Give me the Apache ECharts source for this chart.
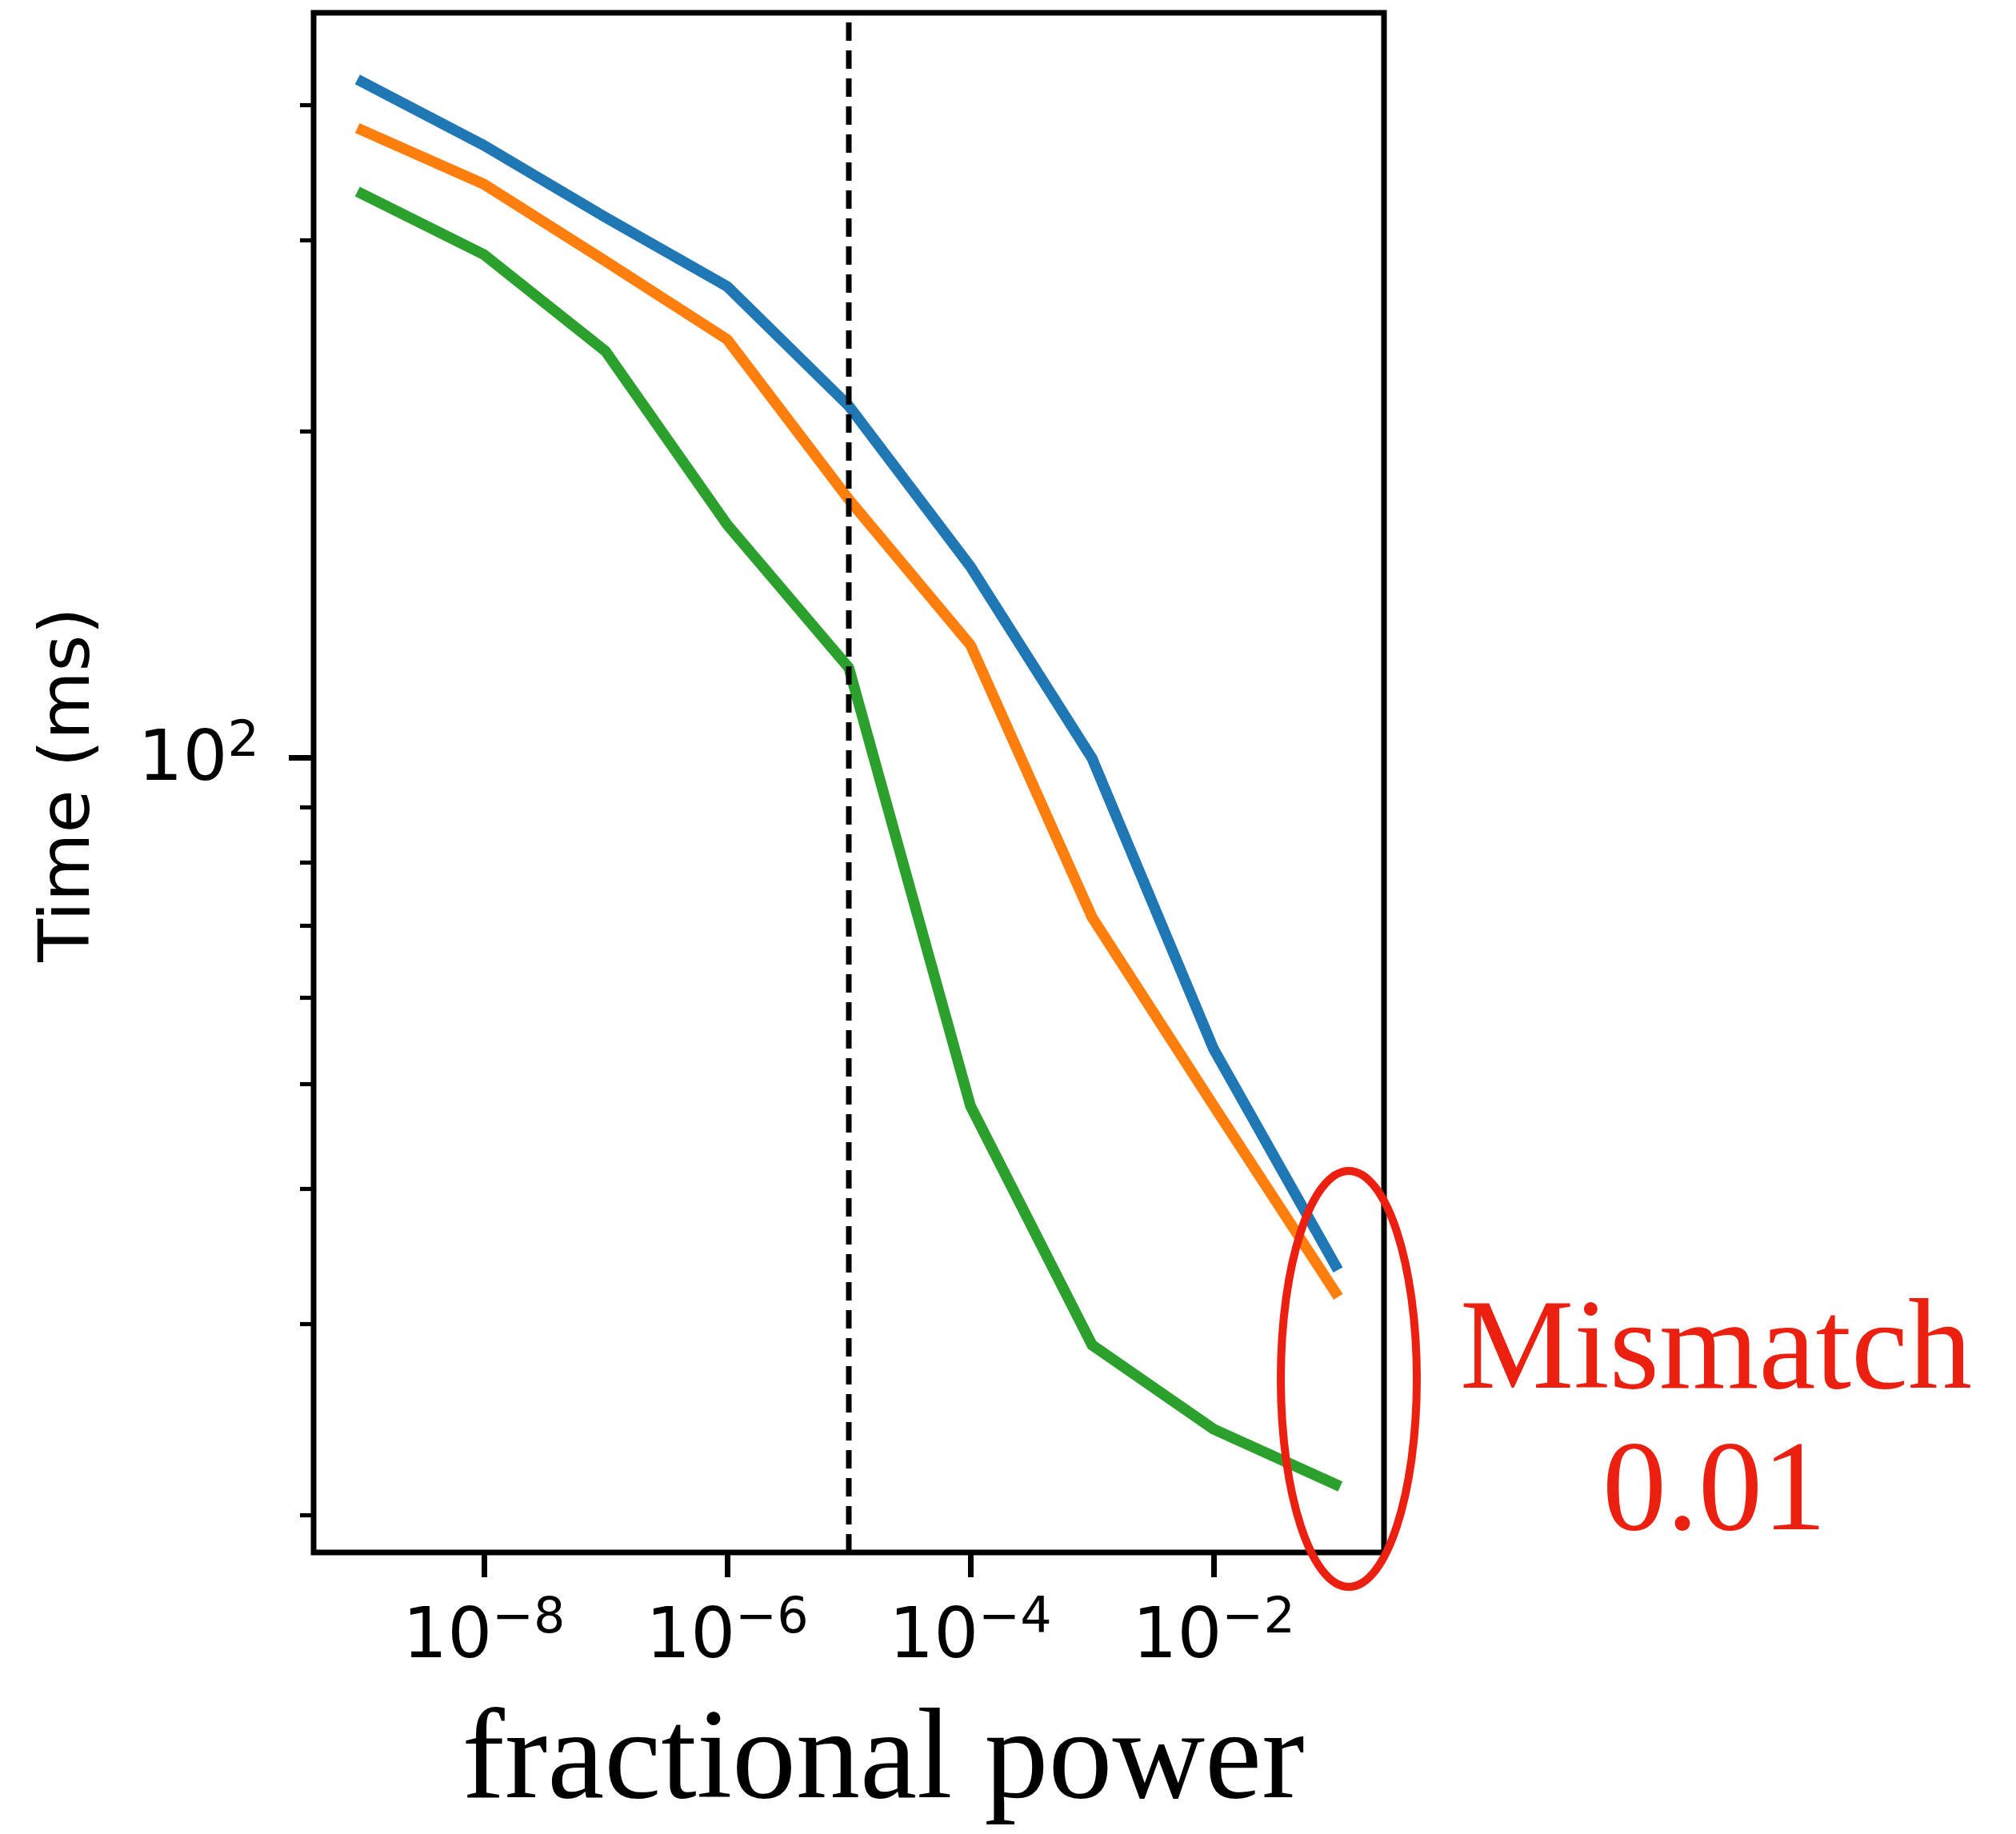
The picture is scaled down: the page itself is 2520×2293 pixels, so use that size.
<!DOCTYPE html>
<html>
<head>
<meta charset="utf-8">
<script src="https://cdn.jsdelivr.net/npm/echarts@6/dist/echarts.min.js"></script>
<style>
html,body{margin:0;padding:0;background:#ffffff;}
#chart{width:2520px;height:2293px;}
</style>
</head>
<body>
<div id="chart"></div>
<script>
// ---- data ----
const fractionalPower = [1e-9, 1e-8, 1e-7, 1e-6, 1e-5, 1e-4, 1e-3, 1e-2, 1e-1];
const timeBlue   = [420, 367, 315, 272, 211, 150, 99.8, 53.8, 34.0];
const timeOrange = [379, 338, 287, 243, 173, 127, 71.2, 47.7, 32.1];
const timeGreen  = [331, 291, 237, 164, 121, 47.7, 28.7, 24.0, 21.35];
const thresholdX = 1e-5;
const xLimits = [Math.pow(10, -9.4), Math.pow(10, -0.6)];
const yLimits = [18.47, 486.4];
const xTickValues = [1e-8, 1e-6, 1e-4, 1e-2];
const yMajorTickValues = [100];
const yMinorTickValues = [20, 30, 40, 50, 60, 70, 80, 90, 200, 300, 400];
const xAxisTitle = 'fractional power';
const yAxisTitle = 'Time (ms)';
const noteLines = ['Mismatch', '0.01'];

// ---- styling ----
const TAB_BLUE = '#1f77b4', TAB_ORANGE = '#ff7f0e', TAB_GREEN = '#2ca02c';
const NOTE_RED = '#ec2011';
const TICK_FONT = '"DejaVu Sans"';
const SERIF = '"Liberation Serif", "Times New Roman", serif';

function pow10Label(v) {
  const e = Math.round(Math.log10(v));
  return '{b|10}{s|' + String(e).replace('-', '\u2212') + '}';
}
const powRich = {
  b: { fontFamily: TICK_FONT, fontSize: 88, lineHeight: 99, verticalAlign: 'bottom', color: '#000' },
  s: { fontFamily: TICK_FONT, fontSize: 62, lineHeight: 51, verticalAlign: 'top', color: '#000' }
};

function pairs(xs, ys) { return xs.map((x, i) => [x, ys[i]]); }

function lineSeries(name, ys, color) {
  return {
    name: name, type: 'line', data: pairs(fractionalPower, ys),
    symbol: 'none', showSymbol: false, z: 3,
    lineStyle: { color: color, width: 13.5, cap: 'square', join: 'round' },
    emphasis: { disabled: true }
  };
}

const chart = echarts.init(document.getElementById('chart'), null, { renderer: 'canvas' });
chart.setOption({
  animation: false,
  backgroundColor: '#ffffff',
  grid: {
    left: 392, top: 16, width: 1338, height: 1925,
    show: true, borderColor: '#000', borderWidth: 7, backgroundColor: 'transparent', z: 5
  },
  xAxis: {
    type: 'log', logBase: 10, min: xLimits[0], max: xLimits[1],
    axisLine: { show: false }, splitLine: { show: false }, minorTick: { show: false },
    axisTick: { show: true, customValues: xTickValues, length: 31, lineStyle: { color: '#000', width: 7 } },
    axisLabel: { customValues: xTickValues, formatter: pow10Label, rich: powRich, margin: 53 }
  },
  yAxis: [
    {
      type: 'log', logBase: 10, min: yLimits[0], max: yLimits[1], position: 'left',
      axisLine: { show: false }, splitLine: { show: false }, minorTick: { show: false },
      axisTick: { show: true, customValues: yMajorTickValues, length: 31, lineStyle: { color: '#000', width: 7 } },
      axisLabel: { customValues: yMajorTickValues, formatter: pow10Label, rich: powRich, margin: 68 }
    },
    {
      type: 'log', logBase: 10, min: yLimits[0], max: yLimits[1], position: 'left', offset: 0,
      axisLine: { show: false }, splitLine: { show: false }, minorTick: { show: false },
      axisTick: { show: true, customValues: yMinorTickValues, length: 17, lineStyle: { color: '#000', width: 5.2 } },
      axisLabel: { show: false }
    }
  ],
  series: [
    lineSeries('blue', timeBlue, TAB_BLUE),
    lineSeries('orange', timeOrange, TAB_ORANGE),
    lineSeries('green', timeGreen, TAB_GREEN),
    {
      name: 'threshold', type: 'line', z: 4,
      data: [[thresholdX, yLimits[0]], [thresholdX, yLimits[1]]],
      symbol: 'none', showSymbol: false,
      lineStyle: { color: '#000', width: 7, type: [23, 12], cap: 'butt' },
      emphasis: { disabled: true }
    }
  ],
  graphic: [
    {
      type: 'text', x: 88, y: 981, rotation: Math.PI / 2, z: 10,
      style: { text: yAxisTitle, font: '88px ' + TICK_FONT, fill: '#000',
               align: 'center', verticalAlign: 'middle', textAlign: 'center', textVerticalAlign: 'middle' }
    },
    {
      type: 'text', x: 1104, y: 2205, z: 10,
      style: { text: xAxisTitle, font: '160px ' + SERIF, fill: '#000',
               align: 'center', verticalAlign: 'middle', textAlign: 'center', textVerticalAlign: 'middle' }
    },
    {
      type: 'text', x: 2145, y: 1693, z: 10,
      style: { text: noteLines[0], font: '160px ' + SERIF, fill: NOTE_RED,
               align: 'center', verticalAlign: 'middle', textAlign: 'center', textVerticalAlign: 'middle' }
    },
    {
      type: 'text', x: 2143, y: 1870, z: 10,
      style: { text: noteLines[1], font: '160px ' + SERIF, fill: NOTE_RED,
               align: 'center', verticalAlign: 'middle', textAlign: 'center', textVerticalAlign: 'middle' }
    },
    {
      type: 'ellipse', z: 20,
      shape: { cx: 1686, cy: 1724, rx: 85, ry: 260 },
      style: { fill: 'none', stroke: NOTE_RED, lineWidth: 10 }
    }
  ]
});
</script>
</body>
</html>
